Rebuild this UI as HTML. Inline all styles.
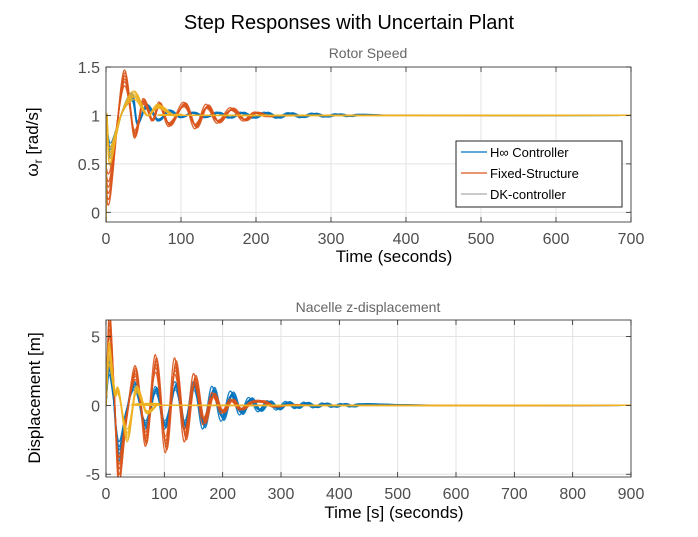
<!DOCTYPE html>
<html><head><meta charset="utf-8"><style>
body{margin:0;background:#fff}
svg{display:block;font-family:"Liberation Sans",sans-serif}
</style></head><body>
<svg id="s" width="698" height="537" viewBox="0 0 698 537">
<rect width="698" height="537" fill="#fff"/>
<text x="349" y="29" text-anchor="middle" font-size="20" fill="#000">Step Responses with Uncertain Plant</text>
<text x="368" y="58" text-anchor="middle" font-size="14" fill="#666">Rotor Speed</text>
<text x="368" y="312" text-anchor="middle" font-size="14" fill="#666">Nacelle z-displacement</text>
<g id="top"></g>
<g id="bot"></g>
<text x="394" y="262" text-anchor="middle" font-size="17" fill="#000">Time (seconds)</text>
<text x="394" y="518" text-anchor="middle" font-size="17" fill="#000">Time [s] (seconds)</text>
<text transform="translate(38,142) rotate(-90)" text-anchor="middle" font-size="17" fill="#000">ω<tspan font-size="12" dy="4">r</tspan><tspan dy="-4"> [rad/s]</tspan></text>
<text transform="translate(40,398) rotate(-90)" text-anchor="middle" font-size="17" fill="#000">Displacement [m]</text>
<g>
<rect x="456" y="141" width="166" height="66" fill="#fff" stroke="#262626" stroke-width="1"/>
<line x1="461" y1="152" x2="487" y2="152" stroke="#0072BD" stroke-width="1.2"/>
<text x="490" y="157" font-size="13" fill="#000">H∞ Controller</text>
<line x1="461" y1="173" x2="487" y2="173" stroke="#D95319" stroke-width="1.2"/>
<text x="490" y="178" font-size="13" fill="#000">Fixed-Structure</text>
<line x1="461" y1="194" x2="487" y2="194" stroke="#aaaaaa" stroke-width="1.2"/>
<text x="490" y="199" font-size="13" fill="#000">DK-controller</text>
</g>
</svg>
<script>
// Top chart data: [time, value] keypoints of nominal responses
const topBlue=[[0,1.0],[6,0.62],[20,1.0],[35,1.2],[42,0.92],[55,1.1],[70,0.95],[85,1.05],[100,0.98],[117,1.03],[133,0.98],[150,1.03],[166,0.975],[182,1.03],[198,0.975],[214,1.03],[230,0.975],[246,1.025],[262,0.98],[278,1.02],[294,0.985],[310,1.015],[326,0.99],[342,1.01],[400,1],[700,1]];
const topOrange=[[0,0.3],[6,0.27],[24,1.4],[38,0.8],[50,1.15],[62,0.95],[72,1.12],[85,0.9],[105,1.12],[120,0.88],[135,1.1],[150,0.93],[168,1.07],[185,0.95],[200,1.03],[220,0.99],[260,1.0],[700,1]];
const topYellow=[[0,-0.1],[1,1.0],[5,0.55],[20,1.0],[38,1.22],[55,1.0],[70,1.1],[90,1.0],[100,1.01],[120,1.0],[700,1]];
const botBlue=[[0,0],[5,3],[12,1],[22,-3.5],[35,-0.5],[50,1.5],[68,-1.5],[86,1.2],[102,-1.5],[120,1.5],[136,-1.5],[152,1.5],[168,-1.5],[184,1.2],[200,-1],[216,0.9],[232,-0.6],[248,0.5],[264,-0.4],[280,0.3],[296,-0.3],[312,0.25],[328,-0.2],[344,0.2],[360,-0.15],[376,0.15],[392,-0.12],[408,0.12],[424,-0.1],[440,0.1],[500,0.05],[600,0],[900,0]];
const botOrange=[[0,0],[6,6],[14,1],[22,-5],[35,-1],[50,2.5],[60,0],[70,-2.5],[86,3.2],[103,-3],[119,3],[136,-2.3],[152,2],[168,-1.2],[184,0.8],[200,-0.5],[216,0.4],[232,-0.3],[250,0.2],[270,0.3],[290,-0.1],[320,0.05],[400,0],[900,0]];
const botYellow=[[0,0],[5,4],[15,1],[22,1],[37,-2.3],[52,1.2],[70,-0.5],[90,0.1],[110,0],[900,0]];
const variationScale=[0.75,0.85,0.92,1.0,1.08,1.15];
const variationStretch=[0.99,0.995,1.0,1.005,1.01,0.985];
const topXTicks=[0,100,200,300,400,500,600,700];
const topYTicks=[0,0.5,1,1.5];
const botXTicks=[0,100,200,300,400,500,600,700,800,900];
const botYTicks=[-5,0,5];

const NS="http://www.w3.org/2000/svg";
function mk(tag,attrs,parent){const e=document.createElementNS(NS,tag);for(const k in attrs)e.setAttribute(k,attrs[k]);parent.appendChild(e);return e;}
function path(pts){let d="M"+pts[0][0].toFixed(1)+","+pts[0][1].toFixed(1);
 for(let i=0;i<pts.length-1;i++){const p0=pts[Math.max(i-1,0)],p1=pts[i],p2=pts[i+1],p3=pts[Math.min(i+2,pts.length-1)];
 const c1=[p1[0]+(p2[0]-p0[0])/6,p1[1]+(p2[1]-p0[1])/6],c2=[p2[0]-(p3[0]-p1[0])/6,p2[1]-(p3[1]-p1[1])/6];
 d+="C"+c1[0].toFixed(1)+","+c1[1].toFixed(1)+" "+c2[0].toFixed(1)+","+c2[1].toFixed(1)+" "+p2[0].toFixed(1)+","+p2[1].toFixed(1);}
 return d;}
function axes(g,ax){
 const X=v=>ax.x0+(v-ax.xmin)/(ax.xmax-ax.xmin)*(ax.x1-ax.x0);
 const Y=v=>ax.y1-(v-ax.ymin)/(ax.ymax-ax.ymin)*(ax.y1-ax.y0);
 mk("rect",{x:ax.x0,y:ax.y0,width:ax.x1-ax.x0,height:ax.y1-ax.y0,fill:"#fff"},g);
 ax.xt.forEach(t=>{const l=mk("line",{x1:X(t),x2:X(t),y1:ax.y0,y2:ax.y1,stroke:"#e3e3e3"},g);
  
  
  const tx=mk("text",{x:X(t),y:ax.y1+22,"text-anchor":"middle","font-size":"16",fill:"#4d4d4d"},g);tx.textContent=t;
  
  });
 ax.yt.forEach(t=>{const l=mk("line",{x1:ax.x0,x2:ax.x1,y1:Y(t),y2:Y(t),stroke:"#e3e3e3"},g);
  
  
  const tx=mk("text",{x:ax.x0-6,y:Y(t)+6,"text-anchor":"end","font-size":"16",fill:"#4d4d4d"},g);tx.textContent=t;
  
  });
 const clipId="c"+ax.id;const cp=mk("clipPath",{id:clipId},g);mk("rect",{x:ax.x0,y:ax.y0,width:ax.x1-ax.x0,height:ax.y1-ax.y0},cp);
 const pg=mk("g",{"clip-path":"url(#"+clipId+")"},g);
 ax.series.forEach(s=>{variationScale.forEach((sc,i)=>{const st=variationStretch[i];
  const n=s.data.length;
  const pts=s.data.map((p,j)=>[X(j===n-1?p[0]:p[0]*st),Y(s.base+(p[1]-s.base)*sc)]);
  const p=mk("path",{d:path(pts),fill:"none",stroke:s.color,"stroke-width":"1.3","stroke-opacity":"0.9"},pg);
  
  });});
 mk("rect",{x:ax.x0,y:ax.y0,width:ax.x1-ax.x0,height:ax.y1-ax.y0,fill:"none",stroke:"#262626","stroke-width":"0.8"},g);
 ax.xt.forEach(t=>{mk("line",{x1:X(t),x2:X(t),y1:ax.y1,y2:ax.y1-5,stroke:"#262626","stroke-width":"0.8"},g);mk("line",{x1:X(t),x2:X(t),y1:ax.y0,y2:ax.y0+5,stroke:"#262626","stroke-width":"0.8"},g);});
 ax.yt.forEach(t=>{mk("line",{x1:ax.x0,x2:ax.x0+5,y1:Y(t),y2:Y(t),stroke:"#262626","stroke-width":"0.8"},g);mk("line",{x1:ax.x1,x2:ax.x1-5,y1:Y(t),y2:Y(t),stroke:"#262626","stroke-width":"0.8"},g);});
}
axes(document.getElementById("top"),{id:"t",x0:106,x1:631,y0:67,y1:222,xmin:0,xmax:700,ymin:-0.1,ymax:1.5,xt:topXTicks,yt:topYTicks,
 series:[{data:topBlue,color:"#0072BD",base:1,name:"hinf-response"},{data:topOrange,color:"#D95319",base:1,name:"fixed-structure-response"},{data:topYellow,color:"#EDB120",base:1,name:"dk-response"}]});
axes(document.getElementById("bot"),{id:"b",x0:106,x1:631,y0:320,y1:477,xmin:0,xmax:900,ymin:-5.2,ymax:6.2,xt:botXTicks,yt:botYTicks,
 series:[{data:botBlue,color:"#0072BD",base:0,name:"hinf-displacement"},{data:botOrange,color:"#D95319",base:0,name:"fixed-structure-displacement"},{data:botYellow,color:"#EDB120",base:0,name:"dk-displacement"}]});
</script>
</body></html>
